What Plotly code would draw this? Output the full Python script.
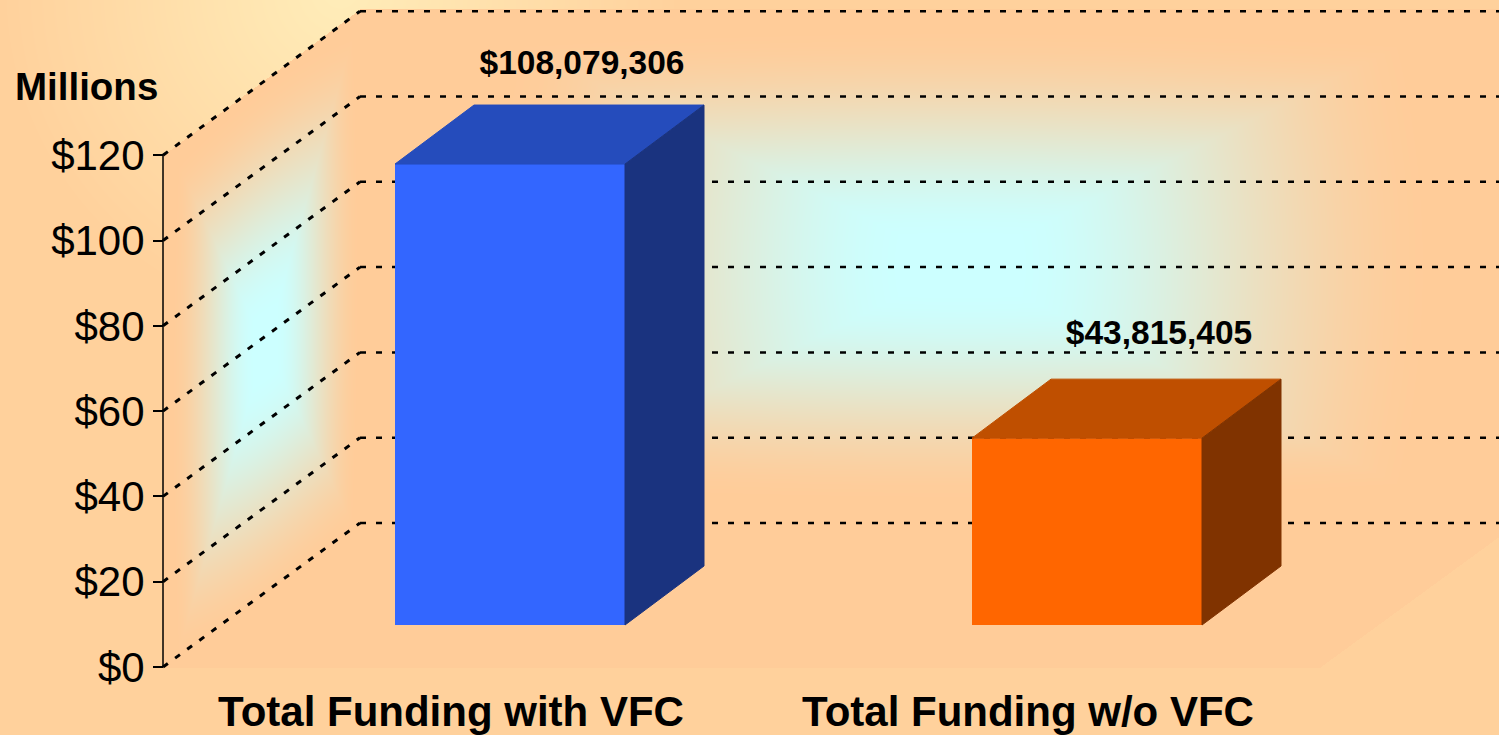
import base64
import struct
import zlib

import numpy as np
import plotly.graph_objects as go

categories = ['Total Funding with VFC', 'Total Funding w/o VFC']
funding = [108079306, 43815405]
funding_labels = ['$108,079,306', '$43,815,405']
y_ticks = [0, 20, 40, 60, 80, 100, 120]
y_tick_labels = ['$0', '$20', '$40', '$60', '$80', '$100', '$120']

front_colors = ['#3366FF', '#FF6600']
top_colors = ['#254CBC', '#BF4F00']
side_colors = ['#1A337F', '#803300']

WIDTH, HEIGHT = 1499, 735
FONT = 'Liberation Sans, Arial, sans-serif'

# axis scales, picked so the figure lines up with the picture
PX_PER_CAT = 577
PX_PER_M = 4.265
CENTER_0_PX = 510
FLOOR_PX = 667

bar_width = 230 / PX_PER_CAT
bar_base = 42 / PX_PER_M
bar_dx, bar_dy = 79 / PX_PER_CAT, 59 / PX_PER_M
wall_dx, wall_dy = 197 / PX_PER_CAT, 144 / PX_PER_M
label_shift = 59 / PX_PER_CAT
label_lift = [98 / PX_PER_M, 103 / PX_PER_M]
axis_x = (163 - CENTER_0_PX) / PX_PER_CAT
x_range = [-CENTER_0_PX / PX_PER_CAT, (WIDTH - CENTER_0_PX) / PX_PER_CAT]
y_range = [-(HEIGHT - FLOOR_PX) / PX_PER_M, FLOOR_PX / PX_PER_M]


def lerp(a, b, t):
    return a + (np.array(b, dtype=float) - a) * t[..., None]


def glow(dx, dy):
    # rectangular path gradient, cyan in the middle and peach at the rim
    t = np.clip(np.hypot(np.maximum(np.abs(dx), np.abs(dy)), 0.35 * np.minimum(np.abs(dx), np.abs(dy))), 0, 1)
    t = np.clip((t - 0.1) / 0.9, 0, 1)
    return t * t * (3 - 2 * t)


def background_png():
    yy, xx = np.mgrid[0:HEIGHT, 0:WIDTH].astype(float)
    peach = np.array([255, 204, 153], dtype=float)
    cyan = np.array([204, 255, 255], dtype=float)

    dist = np.hypot(xx - 340, yy + 10)
    img = lerp(np.array([255, 237, 185], dtype=float), [255, 209, 156], np.clip(dist / 340, 0, 1))

    upper = np.where(xx < 360, 155 - (xx - 163) * 0.741, 9)
    wall = (xx >= 163) & (yy <= FLOOR_PX) & (yy >= upper) & (yy <= FLOOR_PX - (xx - 1320) * 0.73)
    img[wall] = peach

    back = glow((xx - 960) / 480, (yy - 265) / 240)
    left = glow((xx - 265) / 95, (yy + (xx - 163) * 0.735 - 420) / 265)
    back_img = lerp(cyan, peach, back)
    left_img = lerp(cyan, peach, left)
    on_back = wall & (xx >= 360) & (yy <= 523)
    on_left = wall & (xx < 360) & (yy <= FLOOR_PX - (xx - 163) * 0.731)
    img[on_back] = back_img[on_back]
    img[on_left] = left_img[on_left]

    rows = np.round(img).astype(np.uint8)
    raw = b''.join(b'\x00' + row.tobytes() for row in rows)

    def chunk(tag, data):
        return struct.pack('>I', len(data)) + tag + data + struct.pack('>I', zlib.crc32(tag + data))

    png = (b'\x89PNG\r\n\x1a\n' + chunk(b'IHDR', struct.pack('>IIBBBBB', WIDTH, HEIGHT, 8, 2, 0, 0, 0))
           + chunk(b'IDAT', zlib.compress(raw, 9)) + chunk(b'IEND', b''))
    return 'data:image/png;base64,' + base64.b64encode(png).decode()


values_m = [v / 1e6 for v in funding]
positions = list(range(len(categories)))

fig = go.Figure()

# front faces
fig.add_trace(go.Bar(x=positions, y=values_m, base=bar_base, width=bar_width,
                     marker=dict(color=front_colors, line=dict(width=0)), hoverinfo='skip'))

# top and side faces come from the same values, pushed back by the depth
for pos, val, top, side in zip(positions, values_m, top_colors, side_colors):
    left, right = pos - bar_width / 2, pos + bar_width / 2
    y_top = bar_base + val
    fig.add_trace(go.Scatter(x=[left, right, right + bar_dx, left + bar_dx, left],
                             y=[y_top, y_top, y_top + bar_dy, y_top + bar_dy, y_top],
                             mode='lines', fill='toself', fillcolor=top, line=dict(color=top, width=1),
                             hoverinfo='skip'))
    fig.add_trace(go.Scatter(x=[right, right + bar_dx, right + bar_dx, right, right],
                             y=[bar_base, bar_base + bar_dy, y_top + bar_dy, y_top, bar_base],
                             mode='lines', fill='toself', fillcolor=side, line=dict(color=side, width=1),
                             hoverinfo='skip'))

# y axis line
fig.add_trace(go.Scatter(x=[axis_x, axis_x], y=[y_ticks[0], y_ticks[-1]], mode='lines',
                         line=dict(color='black', width=1.5), hoverinfo='skip'))

# value labels
fig.add_trace(go.Scatter(x=[p + 72 / PX_PER_CAT for p in positions],
                         y=[bar_base + v + lift for v, lift in zip(values_m, label_lift)],
                         mode='text', text=funding_labels, textposition='middle center',
                         textfont=dict(family=FONT, size=33.5, color='black', weight='bold'), hoverinfo='skip'))

# dotted grid, along the left wall then across the back wall
shapes = []
for tick in y_ticks:
    shapes.append(dict(type='line', x0=axis_x, y0=tick, x1=axis_x + wall_dx, y1=tick + wall_dy,
                       xref='x', yref='y', layer='below', line=dict(color='black', width=3, dash='6px,9px')))
    shapes.append(dict(type='line', x0=axis_x + wall_dx, y0=tick + wall_dy, x1=x_range[1], y1=tick + wall_dy,
                       xref='x', yref='y', layer='below', line=dict(color='black', width=2.5, dash='6px,10px')))

fig.update_layout(
    width=WIDTH, height=HEIGHT, autosize=False, showlegend=False,
    margin=dict(l=0, r=0, t=0, b=0, pad=0),
    paper_bgcolor='rgba(0,0,0,0)', plot_bgcolor='rgba(0,0,0,0)',
    font=dict(family=FONT, color='black'),
    shapes=shapes,
    images=[dict(source=background_png(), xref='paper', yref='paper', x=0, y=1, sizex=1, sizey=1,
                 xanchor='left', yanchor='top', sizing='stretch', layer='below')],
    annotations=[dict(text='<b>Millions</b>', xref='paper', yref='paper', x=86 / WIDTH, y=1 - 86 / HEIGHT,
                      xanchor='center', yanchor='middle', showarrow=False, font=dict(size=38.5))],
)

fig.update_xaxes(range=x_range, domain=[0, 1], anchor='free', position=(HEIGHT - FLOOR_PX) / HEIGHT,
                 automargin=False, showgrid=False, zeroline=False, showline=False,
                 tickmode='array', tickvals=[p - label_shift for p in positions], ticktext=categories,
                 ticks='outside', ticklen=8, tickcolor='rgba(0,0,0,0)',
                 tickfont=dict(family=FONT, size=42, color='black', weight='bold'))
fig.update_yaxes(range=y_range, domain=[0, 1], anchor='free', position=163 / WIDTH,
                 automargin=False, showgrid=False, zeroline=False, showline=False,
                 tickmode='array', tickvals=y_ticks, ticktext=y_tick_labels,
                 ticks='outside', ticklen=10, tickwidth=1.5, tickcolor='black',
                 tickfont=dict(family=FONT, size=42, color='black'))

# the page has a default body margin that would push the figure off the window
page_fix = "document.body.style.margin='0';document.body.style.overflow='hidden';"
fig.write_html("out.html", post_script=page_fix, config=dict(displayModeBar=False))
